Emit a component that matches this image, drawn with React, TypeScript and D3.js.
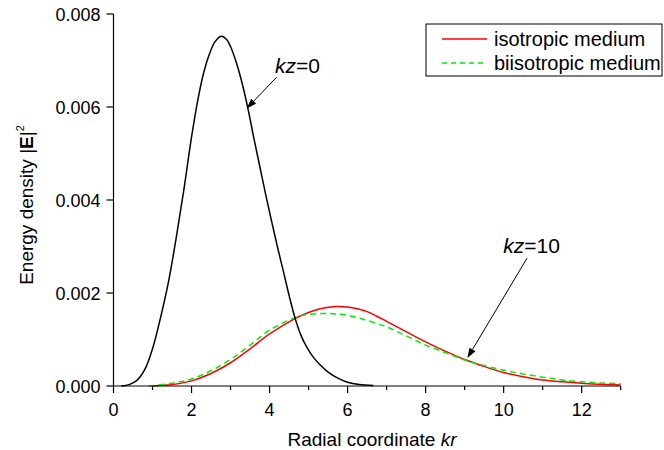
import React from "react";
import * as d3 from "d3";

// kz = 0 curve (x = kr, y in units of 1e-3)
const blackX = [0.2, 0.4, 0.6, 0.8, 1.0, 1.2, 1.4, 1.6, 1.8, 2.0, 2.15, 2.3, 2.45, 2.6, 2.76, 2.9, 3.0, 3.15, 3.3, 3.45, 3.6, 3.75, 3.9, 4.05, 4.2, 4.35, 4.5, 4.65, 4.8, 4.95, 5.12, 5.3, 5.5, 5.75, 6.0, 6.3, 6.66];
const blackY = [0, 0.03, 0.12, 0.35, 0.8, 1.45, 2.2, 3.15, 4.2, 5.35, 6.1, 6.7, 7.12, 7.4, 7.52, 7.45, 7.3, 6.95, 6.5, 5.95, 5.32, 4.72, 4.12, 3.55, 3.0, 2.48, 1.95, 1.47, 1.1, 0.84, 0.62, 0.45, 0.3, 0.17, 0.08, 0.03, 0.01];

// kz = 10, isotropic medium
const redX = [1.0, 1.5, 2.0, 2.5, 3.0, 3.5, 4.0, 4.65, 5.0, 5.3, 5.7, 6.0, 6.25, 6.5, 6.75, 7.0, 7.5, 8.0, 8.5, 9.0, 9.5, 10.0, 10.5, 11.0, 11.5, 12.0, 12.5, 13.0];
const redY = [0, 0.03, 0.11, 0.27, 0.5, 0.8, 1.12, 1.45, 1.58, 1.66, 1.71, 1.70, 1.66, 1.6, 1.5, 1.39, 1.17, 0.95, 0.75, 0.57, 0.42, 0.29, 0.2, 0.13, 0.09, 0.06, 0.035, 0.02];

// kz = 10, biisotropic medium
const greenX = [0.9, 1.5, 2.0, 2.5, 3.0, 3.5, 4.0, 4.65, 5.0, 5.4, 5.7, 6.0, 6.5, 7.0, 7.5, 8.0, 8.5, 9.0, 9.5, 10.0, 10.5, 11.0, 11.5, 12.0, 12.5, 13.0];
const greenY = [0, 0.06, 0.15, 0.33, 0.57, 0.88, 1.2, 1.47, 1.54, 1.56, 1.55, 1.52, 1.41, 1.27, 1.08, 0.88, 0.72, 0.56, 0.44, 0.34, 0.26, 0.19, 0.13, 0.09, 0.065, 0.05];

const xTicks = [0, 2, 4, 6, 8, 10, 12];
const xMinor = [1, 3, 5, 7, 9, 11, 13];
const yTicks = [0, 0.002, 0.004, 0.006, 0.008];

const legendLabels = ["isotropic medium", "biisotropic medium"];

// annotations in data units
const annKz0 = { label: "=0", tx: 4.14, ty: 0.00673, x1: 4.18, y1: 0.00664, x2: 3.415, y2: 0.00597 };
const annKz10 = { label: "=10", tx: 9.99, ty: 0.00286, x1: 10.6, y1: 0.00275, x2: 9.07, y2: 0.0006 };

const FONT = "'Liberation Sans', Arial, Helvetica, sans-serif";

export default function App() {
  const W = 664, H = 450;
  const x = d3.scaleLinear().domain([0, 13]).range([113.5, 620.7]);
  const y = d3.scaleLinear().domain([0, 0.008]).range([386, 14]);

  const line = d3
    .line<[number, number]>()
    .x((d) => x(d[0]))
    .y((d) => y(d[1]))
    .curve(d3.curveCatmullRom.alpha(0.5));

  const toPts = (xs: number[], ys: number[]) => xs.map((v, i) => [v, ys[i] / 1000] as [number, number]);

  const arrow = (a: typeof annKz0) => {
    const X1 = x(a.x1), Y1 = y(a.y1), X2 = x(a.x2), Y2 = y(a.y2);
    const ang = Math.atan2(Y2 - Y1, X2 - X1);
    const L = 10, Wd = 3.5;
    const bx = X2 - L * Math.cos(ang), by = Y2 - L * Math.sin(ang);
    const p1 = [bx + Wd * Math.sin(ang), by - Wd * Math.cos(ang)];
    const p2 = [bx - Wd * Math.sin(ang), by + Wd * Math.cos(ang)];
    return (
      <g>
        <line x1={X1} y1={Y1} x2={bx} y2={by} stroke="#000" strokeWidth={1} />
        <polygon points={`${X2},${Y2} ${p1[0]},${p1[1]} ${p2[0]},${p2[1]}`} fill="#000" />
        <text x={x(a.tx)} y={y(a.ty)} fontSize={21} fontFamily={FONT}>
          <tspan fontStyle="italic">kz</tspan>
          <tspan>{a.label}</tspan>
        </text>
      </g>
    );
  };

  return (
    <svg width={W} height={H} style={{ position: "absolute", left: 0, top: 0, background: "#fff" }}>
      <rect width={W} height={H} fill="#fff" />
      {/* curves */}
      <path d={line(toPts(redX, redY)) || ""} fill="none" stroke="#ff0000" strokeWidth={1.5} />
      <path d={line(toPts(greenX, greenY)) || ""} fill="none" stroke="#00ee00" strokeWidth={1.5} strokeDasharray="6,4" />
      <path d={line(toPts(blackX, blackY)) || ""} fill="none" stroke="#000" strokeWidth={1.5} />

      {/* axes */}
      <g stroke="#000" strokeWidth={1.2}>
        <line x1={x(0)} x2={x(13)} y1={y(0)} y2={y(0)} />
        <line x1={x(0)} x2={x(0)} y1={y(0)} y2={y(0.008)} />
        {xTicks.map((t) => (
          <line key={"xt" + t} x1={x(t)} x2={x(t)} y1={y(0)} y2={y(0) + 7} />
        ))}
        {xMinor.map((t) => (
          <line key={"xm" + t} x1={x(t)} x2={x(t)} y1={y(0)} y2={y(0) + 4} />
        ))}
        {yTicks.map((t) => (
          <line key={"yt" + t} x1={x(0) - 7} x2={x(0)} y1={y(t)} y2={y(t)} />
        ))}
      </g>
      <g fontFamily={FONT} fontSize={18} fill="#000">
        {xTicks.map((t) => (
          <text key={"xl" + t} x={x(t)} y={y(0) + 30} textAnchor="middle">
            {t}
          </text>
        ))}
        {yTicks.map((t) => (
          <text key={"yl" + t} x={x(0) - 13} y={y(t) + 6.5} textAnchor="end">
            {d3.format(".3f")(t)}
          </text>
        ))}
      </g>
      <text x={372} y={446} textAnchor="middle" fontFamily={FONT} fontSize={19}>
        Radial coordinate <tspan fontStyle="italic">kr</tspan>
      </text>
      <text transform="translate(33,205) rotate(-90)" textAnchor="middle" fontFamily={FONT} fontSize={19}>
        Energy density |<tspan fontWeight="bold">E</tspan>|<tspan fontSize={11} dy={-9}>2</tspan>
      </text>

      {arrow(annKz0)}
      {arrow(annKz10)}

      {/* legend */}
      <rect x={426} y={24} width={236} height={52} fill="#fff" stroke="#000" strokeWidth={1} />
      <line x1={442} x2={487} y1={39} y2={39} stroke="#ff0000" strokeWidth={1.5} />
      <line x1={442} x2={487} y1={63} y2={63} stroke="#00ee00" strokeWidth={1.5} strokeDasharray="5,4" />
      <g fontFamily={FONT} fontSize={20}>
        <text x={494} y={46}>{legendLabels[0]}</text>
        <text x={494} y={70}>{legendLabels[1]}</text>
      </g>
    </svg>
  );
}
